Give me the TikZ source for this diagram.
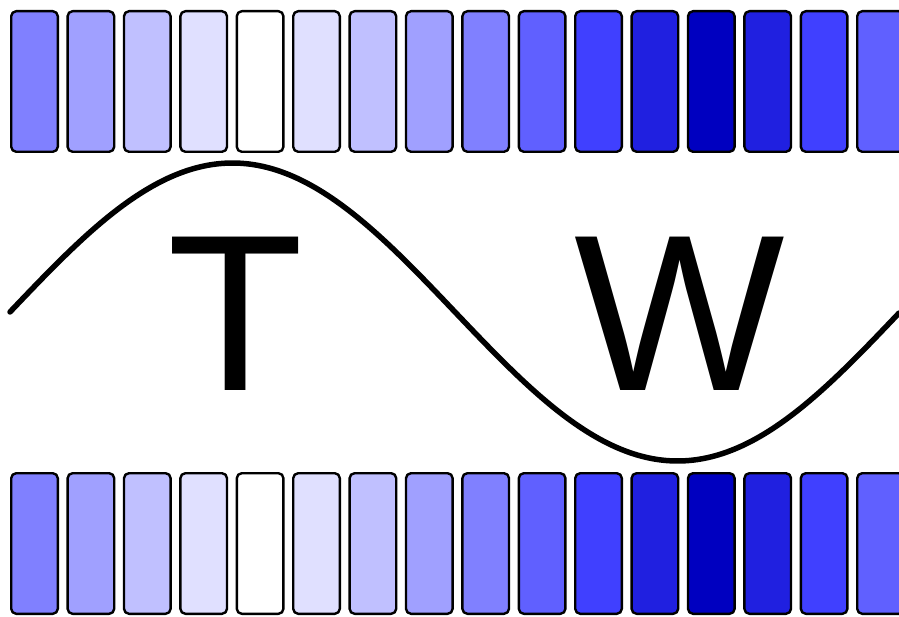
\documentclass[tikz,border=0pt]{standalone}
\usepackage{fontspec}
\setmainfont{Liberation Sans}
\definecolor{c0}{HTML}{FFFFFF}
\definecolor{c1}{HTML}{E0E0FF}
\definecolor{c2}{HTML}{C0C0FF}
\definecolor{c3}{HTML}{A0A0FF}
\definecolor{c4}{HTML}{8080FF}
\definecolor{c5}{HTML}{6060FF}
\definecolor{c6}{HTML}{4040FF}
\definecolor{c7}{HTML}{2020E0}
\definecolor{c8}{HTML}{0000C0}
\begin{document}
\begin{tikzpicture}[x=1pt, y=-1pt, line join=round, line cap=round,
  bar/.style={draw, line width=2.4pt, rounded corners=5pt, minimum width=46.6pt,
    minimum height=140.6pt, inner sep=0pt, outer sep=0pt},
  big/.style={font=\fontsize{223}{223}\selectfont, inner sep=0pt, anchor=base}]
\path
(0,0) coordinate (NW)
(899,617) coordinate (SE)
;
\useasboundingbox (NW) rectangle (SE);
\clip (NW) rectangle (SE);
% two rows of shaded bars
\foreach \i/\c in {0/c4,1/c3,2/c2,3/c1,4/c0,5/c1,6/c2,7/c3,8/c4,9/c5,10/c6,11/c7,12/c8,13/c7,14/c6,15/c5}{
  \node[bar, fill=\c] (top\i) at (34.5+56.4*\i, 81.5) {};
  \node[bar, fill=\c] (bot\i) at (34.5+56.4*\i, 543.5) {};
}
% the wave
\draw[line width=5.5pt] plot[domain=10:899, samples=120, smooth] (\x, {312-149*sin((\x-10)/890*360)});
\node[big] (T) at (236,390) {T};
\node[big] (W) at (680,390) {W};
\end{tikzpicture}
\end{document}
